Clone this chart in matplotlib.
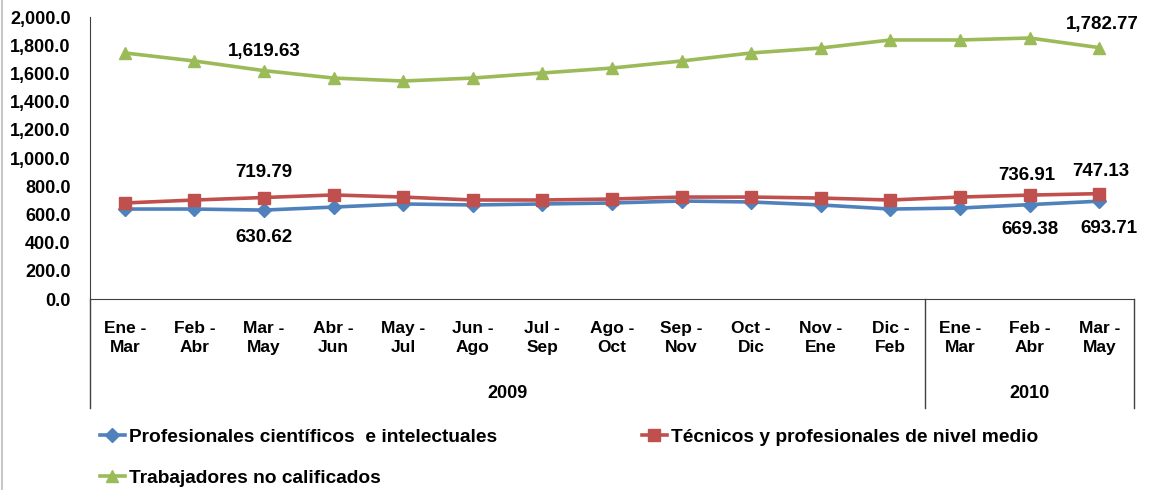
import matplotlib
matplotlib.use('Agg')
import matplotlib.pyplot as plt
from matplotlib.lines import Line2D

plt.rcParams['font.family'] = ['Liberation Sans', 'DejaVu Sans']
plt.rcParams['font.weight'] = 'bold'

categorias = ['Ene -\nMar', 'Feb -\nAbr', 'Mar -\nMay', 'Abr -\nJun', 'May -\nJul', 'Jun -\nAgo',
              'Jul -\nSep', 'Ago -\nOct', 'Sep -\nNov', 'Oct -\nDic', 'Nov -\nEne', 'Dic -\nFeb',
              'Ene -\nMar', 'Feb -\nAbr', 'Mar -\nMay']
anios = ['2009', '2010']
n_por_anio = [12, 3]

profesionales = [638, 638, 630.62, 652, 674, 667, 674, 681, 695, 688, 667, 638, 645, 669.38, 693.71]
tecnicos = [681, 702, 719.79, 738, 723, 702, 702, 709, 723, 723, 716, 702, 723, 736.91, 747.13]
no_calificados = [1745, 1688, 1619.63, 1567, 1546, 1567, 1603, 1638, 1688, 1745, 1780, 1837, 1837, 1851, 1782.77]

series = [
    ('Profesionales científicos  e intelectuales', profesionales, '#4F81BD', 'D', 7),
    ('Técnicos y profesionales de nivel medio', tecnicos, '#C0504D', 's', 9),
    ('Trabajadores no calificados', no_calificados, '#9BBB59', '^', 9),
]

fig = plt.figure(figsize=(11.49, 4.90), dpi=100)
ax = fig.add_axes([90 / 1149, 1 - 299 / 490, 1044 / 1149, 282 / 490])

# borde gris a la izquierda
fig.add_artist(Line2D([1.5 / 1149, 1.5 / 1149], [0, 1], color='#C8C8C8', lw=1.5))

x = list(range(len(categorias)))
handles = []
for nombre, valores, color, marker, ms in series:
    h, = ax.plot(x, valores, color=color, lw=2.6, marker=marker, markersize=ms,
                 label=nombre, clip_on=False)
    handles.append(h)

ax.set_xlim(-0.5, len(categorias) - 0.5)
ax.set_ylim(0, 2000)
ax.set_yticks(range(0, 2001, 200))
ax.set_yticklabels([f'{v:,.1f}' for v in range(0, 2001, 200)], fontsize=13, fontweight='bold')
ax.tick_params(axis='y', length=0, pad=14)
ax.set_xticks(x)
ax.set_xticklabels(categorias, fontsize=12.5, fontweight='bold', linespacing=1.3)
ax.tick_params(axis='x', length=0, pad=16)

for s in ['top', 'right']:
    ax.spines[s].set_visible(False)
ax.spines['left'].set_color('#404040')
ax.spines['bottom'].set_color('#404040')

# tabla de categorías bajo el eje
trans = ax.get_xaxis_transform()
fondo = -109 / 282
ax.plot([-0.5, -0.5], [0, fondo], transform=trans, color='#404040', lw=1, clip_on=False)
inicio = -0.5
for anio, n in zip(anios, n_por_anio):
    fin = inicio + n
    ax.plot([fin, fin], [0, fondo], transform=trans, color='#404040', lw=1, clip_on=False)
    ax.text((inicio + fin) / 2, -94 / 282, anio, transform=trans, ha='center', va='center',
            fontsize=13, fontweight='bold')
    inicio = fin

# etiquetas de datos
etiquetas = [
    (no_calificados, 2, 0, 19), (tecnicos, 2, 0, 25), (profesionales, 2, 0, -27),
    (tecnicos, 13, -3, 20), (tecnicos, 14, 2, 22), (profesionales, 13, 0, -25),
    (profesionales, 14, 10, -27), (no_calificados, 14, 3, 23),
]
for valores, i, dx, dy in etiquetas:
    ax.annotate(f'{valores[i]:,.2f}', (i, valores[i]), xytext=(dx, dy), textcoords='offset pixels',
                ha='center', va='center', fontsize=13.5, fontweight='bold')

# leyenda
posiciones = [(100, 437), (642, 437), (100, 478)]
for h, (px, py) in zip(handles, posiciones):
    fig.legend(handles=[h], loc='center left', bbox_to_anchor=(px / 1149, 1 - py / 490),
               frameon=False, handlelength=1.3, handletextpad=0.2,
               borderpad=0, borderaxespad=0, prop={'weight': 'bold', 'size': 13.8})

fig.savefig('out.png', dpi=100)
